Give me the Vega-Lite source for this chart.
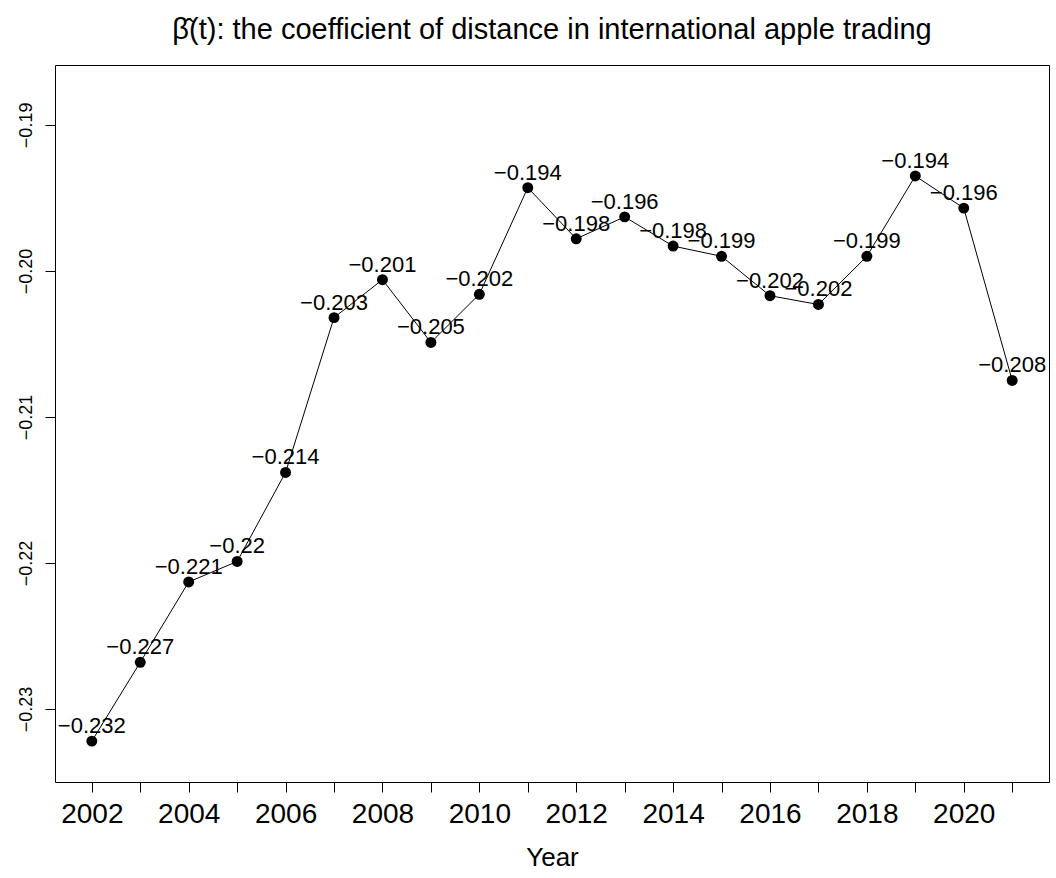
{
  "$schema": "https://vega.github.io/schema/vega-lite/v6.json",
  "width": 994,
  "height": 717,
  "autosize": "none",
  "padding": {"left": 55, "top": 65, "right": 7, "bottom": 96},
  "background": "white",
  "config": {
    "font": "Liberation Sans",
    "view": {"stroke": "black", "strokeWidth": 1}
  },
  "title": {
    "text": "β̂(t): the coefficient of distance in international apple trading",
    "fontSize": 29,
    "fontWeight": "normal",
    "color": "black",
    "anchor": "middle",
    "offset": 20
  },
  "data": {
    "values": [
      {"year": 2002, "beta": -0.2322, "label": "−0.232"},
      {"year": 2003, "beta": -0.2268, "label": "−0.227"},
      {"year": 2004, "beta": -0.2213, "label": "−0.221"},
      {"year": 2005, "beta": -0.2199, "label": "−0.22"},
      {"year": 2006, "beta": -0.2138, "label": "−0.214"},
      {"year": 2007, "beta": -0.2032, "label": "−0.203"},
      {"year": 2008, "beta": -0.2006, "label": "−0.201"},
      {"year": 2009, "beta": -0.2049, "label": "−0.205"},
      {"year": 2010, "beta": -0.2016, "label": "−0.202"},
      {"year": 2011, "beta": -0.1943, "label": "−0.194"},
      {"year": 2012, "beta": -0.1978, "label": "−0.198"},
      {"year": 2013, "beta": -0.1963, "label": "−0.196"},
      {"year": 2014, "beta": -0.1983, "label": "−0.198"},
      {"year": 2015, "beta": -0.1990, "label": "−0.199"},
      {"year": 2016, "beta": -0.2017, "label": "−0.202"},
      {"year": 2017, "beta": -0.2023, "label": "−0.202"},
      {"year": 2018, "beta": -0.1990, "label": "−0.199"},
      {"year": 2019, "beta": -0.1935, "label": "−0.194"},
      {"year": 2020, "beta": -0.1957, "label": "−0.196"},
      {"year": 2021, "beta": -0.2075, "label": "−0.208"}
    ]
  },
  "encoding": {
    "x": {
      "field": "year",
      "type": "quantitative",
      "scale": {"domain": [2001.24, 2021.76], "nice": false, "zero": false},
      "axis": {
        "values": [2002, 2003, 2004, 2005, 2006, 2007, 2008, 2009, 2010, 2011, 2012, 2013, 2014, 2015, 2016, 2017, 2018, 2019, 2020, 2021],
        "labelExpr": "datum.value % 2 == 0 ? toString(datum.value) : ''",
        "grid": false,
        "domain": false,
        "tickSize": 10,
        "tickColor": "black",
        "labelColor": "black",
        "labelFontSize": 28,
        "labelPadding": 8,
        "labelFlush": false,
        "labelOverlap": false,
        "title": "Year",
        "titleFontSize": 26,
        "titleFontWeight": "normal",
        "titleColor": "black",
        "titlePadding": 16
      }
    },
    "y": {
      "field": "beta",
      "type": "quantitative",
      "scale": {"domain": [-0.235, -0.1859], "nice": false, "zero": false},
      "axis": {
        "values": [-0.23, -0.22, -0.21, -0.2, -0.19],
        "labelExpr": "replace(format(datum.value, '.2f'), '-', '−')",
        "grid": false,
        "domain": false,
        "tickSize": 10,
        "tickColor": "black",
        "labelColor": "black",
        "labelFontSize": 18,
        "labelAngle": -90,
        "labelAlign": "center",
        "labelBaseline": "bottom",
        "labelPadding": 10,
        "labelFlush": false,
        "labelOverlap": false,
        "title": null
      }
    }
  },
  "layer": [
    {"mark": {"type": "line", "color": "black", "strokeWidth": 1}},
    {"mark": {"type": "point", "filled": true, "color": "black", "opacity": 1, "size": 120}},
    {
      "mark": {"type": "text", "fontSize": 22, "color": "black", "baseline": "alphabetic", "align": "center", "dy": -8},
      "encoding": {"text": {"field": "label"}}
    }
  ]
}
